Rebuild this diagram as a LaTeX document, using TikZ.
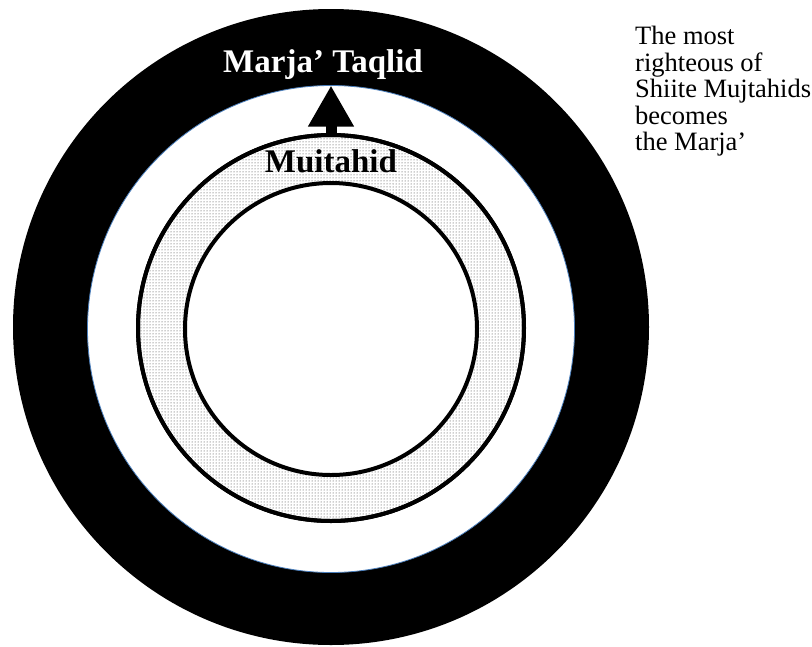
\documentclass[tikz,border=0pt]{standalone}
\usepackage{fontspec}
\setmainfont{Liberation Serif}
\usetikzlibrary{arrows.meta,patterns}
\definecolor{rimblue}{RGB}{74,126,187}
\tikzset{
  disc/.style={circle,inner sep=0pt,outer sep=0pt},
  ringline/.style={draw=black,line width=4pt},
  title/.style={font=\fontsize{33}{35}\selectfont\bfseries,inner sep=0pt,anchor=base}
}
\begin{document}
\begin{tikzpicture}[x=1pt,y=-1pt]
\useasboundingbox (0,0) rectangle (812,646);

% rings, from outside in
\node[disc,fill=black,minimum size=636pt] (outer) at (331,327) {};
\node[disc,fill=white,draw=rimblue,line width=0.8pt,minimum size=487pt] (middle) at (331,329) {};
\node[disc,ringline,fill=white,minimum size=386pt] (ringbg) at (331,328) {};
\node[disc,ringline,pattern=dots,pattern color=black!80,minimum size=386pt] (ring) at (331,328) {};
\node[disc,ringline,fill=white,minimum size=292pt] (core) at (331,329) {};

% promotion arrow
\draw[line width=11pt,-{Triangle[width=43pt,length=41pt]}] (ring.north) -- (middle.north);

% labels
\node[title,text=white] (marja) at (323,72) {Marja' Taqlid};
\node[title,text=black] (mujtahid) at (331,172) {Muitahid};

\node[font=\fontsize{26.5}{26.5}\selectfont,align=left,anchor=north west,inner sep=0pt]
  (note) at (635,26) {The most\\righteous of\\Shiite Mujtahids\\becomes\\the Marja'};
\end{tikzpicture}
\end{document}
